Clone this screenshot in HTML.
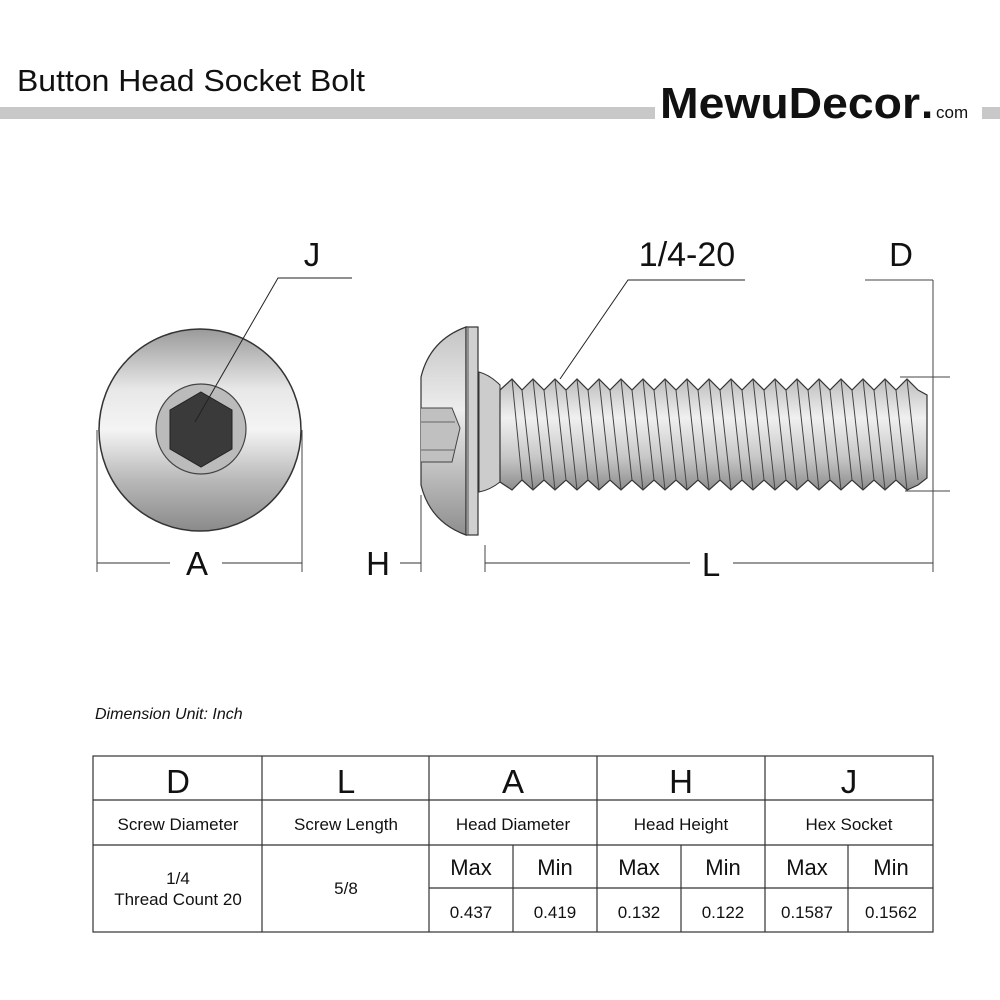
<!DOCTYPE html>
<html><head><meta charset="utf-8"><style>
html,body{margin:0;padding:0;background:#fff;}
svg{display:block;}
text{font-family:"Liberation Sans",sans-serif;fill:#111;}
</style></head><body>
<svg width="1000" height="1000" viewBox="0 0 1000 1000" xmlns="http://www.w3.org/2000/svg">
<defs>
<linearGradient id="hg" x1="0" y1="0" x2="0" y2="1">
<stop offset="0" stop-color="#9a9a9a"/><stop offset="0.3" stop-color="#e8e8e8"/><stop offset="0.5" stop-color="#f4f4f4"/><stop offset="0.75" stop-color="#b8b8b8"/><stop offset="1" stop-color="#8a8a8a"/></linearGradient>
<linearGradient id="sg" x1="0" y1="0" x2="0" y2="1">
<stop offset="0" stop-color="#bdbdbd"/><stop offset="0.35" stop-color="#f0f0f0"/><stop offset="0.7" stop-color="#c8c8c8"/><stop offset="1" stop-color="#8c8c8c"/></linearGradient>
<linearGradient id="dg" x1="0" y1="0" x2="0" y2="1">
<stop offset="0" stop-color="#c4c4c4"/><stop offset="0.4" stop-color="#ededed"/><stop offset="1" stop-color="#8e8e8e"/></linearGradient>
</defs>
<!-- header -->
<text x="17" y="91" font-size="31" fill="#333" textLength="348" lengthAdjust="spacingAndGlyphs" style="font-weight:normal">Button Head Socket Bolt</text>
<rect x="0" y="107" width="655" height="12" fill="#c8c8c8"/>
<rect x="982" y="107" width="18" height="12" fill="#c8c8c8"/>
<text x="660" y="118" font-size="44" font-weight="bold" textLength="260" lengthAdjust="spacingAndGlyphs">MewuDecor</text>
<text x="921" y="118" font-size="44" font-weight="bold">.</text>
<text x="936" y="118" font-size="17">com</text>

<!-- head front view -->
<circle cx="200" cy="430" r="101" fill="url(#hg)" stroke="#333" stroke-width="1.5"/>
<circle cx="201" cy="429" r="45" fill="#bbb" stroke="#444" stroke-width="1.2"/>
<polygon points="201,392 232,410 232,449 201,467 170,449 170,410" fill="#3a3a3a" stroke="#222"/>
<polyline points="352,278 278,278 195,422" fill="none" stroke="#222" stroke-width="1"/>
<text x="312" y="266" font-size="33" text-anchor="middle">J</text>
<line x1="97" y1="430" x2="97" y2="572" stroke="#444"/>
<line x1="302" y1="430" x2="302" y2="572" stroke="#444"/>
<line x1="97" y1="563" x2="170" y2="563" stroke="#333"/>
<line x1="222" y1="563" x2="302" y2="563" stroke="#333"/>
<text x="197" y="575" font-size="33" text-anchor="middle">A</text>

<!-- side view bolt -->
<path d="M421,377 Q430,340 466,327 L466,535 Q430,522 421,485 Z" fill="url(#dg)" stroke="#333" stroke-width="1.2"/>
<rect x="466" y="327" width="12" height="208" fill="#d0d0d0" stroke="#333" stroke-width="1.2"/>
<line x1="468" y1="327" x2="468" y2="535" stroke="#555"/>
<path d="M421,408 L452,408 L460,428 L452,462 L421,462" fill="#c0c0c0" stroke="#444"/>
<line x1="421" y1="422" x2="455" y2="422" stroke="#666"/>
<line x1="421" y1="450" x2="455" y2="450" stroke="#666"/>
<path d="M479,372 Q490,375 500,385 L500,482 Q490,490 479,492 Z" fill="#ccc" stroke="#333"/>
<path fill="url(#sg)" stroke="#333" stroke-width="1.2" d="
M500,390
L512,379 L522,390 L533,379 L544,390 L555,379 L566,390 L577,379 L588,390 L599,379 L610,390 L621,379 L632,390 L643,379 L654,390 L665,379 L676,390 L687,379 L698,390 L709,379 L720,390 L731,379 L742,390 L753,379 L764,390 L775,379 L786,390 L797,379 L808,390 L819,379 L830,390 L841,379 L852,390 L863,379 L874,390 L885,379 L896,390 L907,379 L918,390 L927,395 L927,478 L918,485
L907,490 L896,480 L885,490 L874,480 L863,490 L852,480 L841,490 L830,480 L819,490 L808,480 L797,490 L786,480 L775,490 L764,480 L753,490 L742,480 L731,490 L720,480 L709,490 L698,480 L687,490 L676,480 L665,490 L654,480 L643,490 L632,480 L621,490 L610,480 L599,490 L588,480 L577,490 L566,480 L555,490 L544,480 L533,490 L522,480 L512,490 L500,482 Z"/>
<g stroke="#444" stroke-width="1">
<line x1="512" y1="379" x2="522" y2="480"/><line x1="533" y1="379" x2="544" y2="480"/><line x1="555" y1="379" x2="566" y2="480"/><line x1="577" y1="379" x2="588" y2="480"/><line x1="599" y1="379" x2="610" y2="480"/><line x1="621" y1="379" x2="632" y2="480"/><line x1="643" y1="379" x2="654" y2="480"/><line x1="665" y1="379" x2="676" y2="480"/><line x1="687" y1="379" x2="698" y2="480"/><line x1="709" y1="379" x2="720" y2="480"/><line x1="731" y1="379" x2="742" y2="480"/><line x1="753" y1="379" x2="764" y2="480"/><line x1="775" y1="379" x2="786" y2="480"/><line x1="797" y1="379" x2="808" y2="480"/><line x1="819" y1="379" x2="830" y2="480"/><line x1="841" y1="379" x2="852" y2="480"/><line x1="863" y1="379" x2="874" y2="480"/><line x1="885" y1="379" x2="896" y2="480"/><line x1="907" y1="379" x2="918" y2="480"/>
<line x1="522" y1="390" x2="533" y2="490"/><line x1="544" y1="390" x2="555" y2="490"/><line x1="566" y1="390" x2="577" y2="490"/><line x1="588" y1="390" x2="599" y2="490"/><line x1="610" y1="390" x2="621" y2="490"/><line x1="632" y1="390" x2="643" y2="490"/><line x1="654" y1="390" x2="665" y2="490"/><line x1="676" y1="390" x2="687" y2="490"/><line x1="698" y1="390" x2="709" y2="490"/><line x1="720" y1="390" x2="731" y2="490"/><line x1="742" y1="390" x2="753" y2="490"/><line x1="764" y1="390" x2="775" y2="490"/><line x1="786" y1="390" x2="797" y2="490"/><line x1="808" y1="390" x2="819" y2="490"/><line x1="830" y1="390" x2="841" y2="490"/><line x1="852" y1="390" x2="863" y2="490"/><line x1="874" y1="390" x2="885" y2="490"/><line x1="896" y1="390" x2="907" y2="490"/>
</g>
<text x="687" y="266" font-size="34" text-anchor="middle">1/4-20</text>
<polyline points="745,280 628,280 560,379" fill="none" stroke="#222"/>
<text x="901" y="266" font-size="33" text-anchor="middle">D</text>
<line x1="865" y1="280" x2="933" y2="280" stroke="#444"/>
<line x1="933" y1="280" x2="933" y2="572" stroke="#444"/>
<line x1="900" y1="377" x2="950" y2="377" stroke="#444"/>
<line x1="905" y1="491" x2="950" y2="491" stroke="#444"/>
<line x1="421" y1="495" x2="421" y2="572" stroke="#444"/>
<line x1="485" y1="545" x2="485" y2="572" stroke="#444"/>
<line x1="400" y1="563" x2="421" y2="563" stroke="#333"/>
<text x="378" y="575" font-size="33" text-anchor="middle">H</text>
<line x1="485" y1="563" x2="690" y2="563" stroke="#333"/>
<line x1="733" y1="563" x2="933" y2="563" stroke="#333"/>
<text x="711" y="576" font-size="33" text-anchor="middle">L</text>

<!-- table -->
<text x="95" y="719" font-size="16" font-style="italic" fill="#222">Dimension Unit: Inch</text>
<g stroke="#333" stroke-width="1.2" fill="none">
<rect x="93" y="756" width="840" height="176"/>
<line x1="93" y1="800" x2="933" y2="800"/>
<line x1="93" y1="845" x2="933" y2="845"/>
<line x1="429" y1="888" x2="933" y2="888"/>
<line x1="262" y1="756" x2="262" y2="932"/>
<line x1="429" y1="756" x2="429" y2="932"/>
<line x1="597" y1="756" x2="597" y2="932"/>
<line x1="765" y1="756" x2="765" y2="932"/>
<line x1="513" y1="845" x2="513" y2="932"/>
<line x1="681" y1="845" x2="681" y2="932"/>
<line x1="848" y1="845" x2="848" y2="932"/>
</g>
<g font-size="33" text-anchor="middle">
<text x="178" y="793">D</text><text x="346" y="793">L</text><text x="513" y="793">A</text><text x="681" y="793">H</text><text x="849" y="793">J</text>
</g>
<g font-size="17" text-anchor="middle">
<text x="178" y="830">Screw Diameter</text><text x="346" y="830">Screw Length</text><text x="513" y="830">Head Diameter</text><text x="681" y="830">Head Height</text><text x="849" y="830">Hex Socket</text>
<text x="178" y="884">1/4</text><text x="178" y="905">Thread Count 20</text><text x="346" y="894">5/8</text>
<text x="471" y="918">0.437</text><text x="555" y="918">0.419</text><text x="639" y="918">0.132</text><text x="723" y="918">0.122</text><text x="807" y="918">0.1587</text><text x="891" y="918">0.1562</text>
</g>
<g font-size="22" text-anchor="middle">
<text x="471" y="875">Max</text><text x="555" y="875">Min</text><text x="639" y="875">Max</text><text x="723" y="875">Min</text><text x="807" y="875">Max</text><text x="891" y="875">Min</text>
</g>
</svg>
</body></html>
